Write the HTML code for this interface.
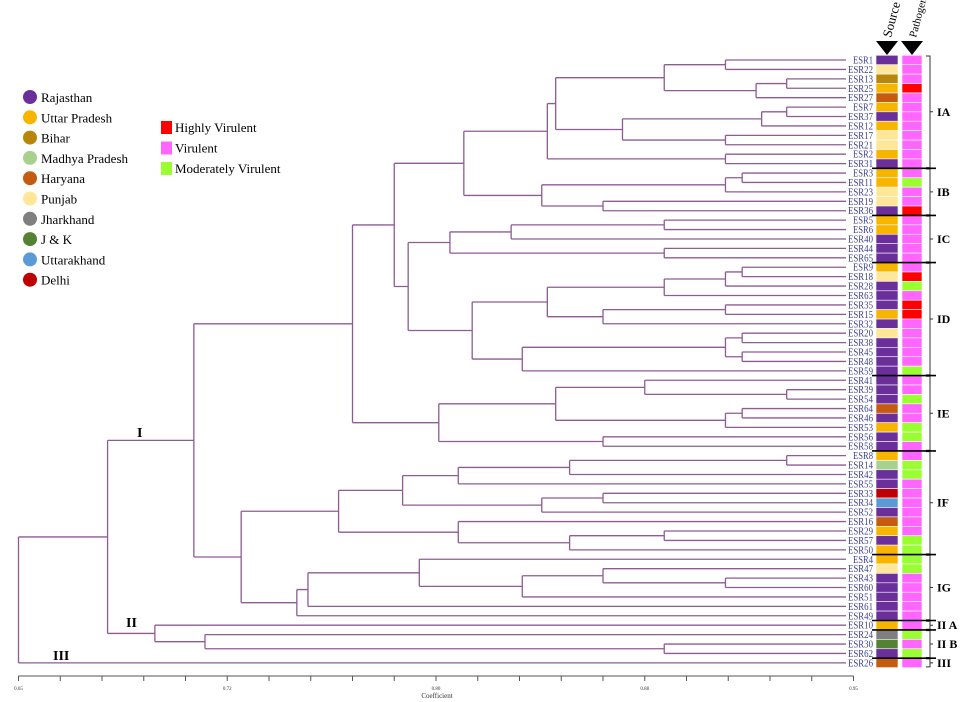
<!DOCTYPE html>
<html><head><meta charset="utf-8"><style>
html,body{margin:0;padding:0;background:#fff;}
svg{display:block;font-family:"Liberation Serif",serif;}
</style></head><body>
<svg id="chart" width="964" height="702" viewBox="0 0 964 702" xmlns="http://www.w3.org/2000/svg">
<g id="legend"></g>
<g id="tree"></g>
<g id="leaves"></g>
<g id="boxes"></g>
<g id="axis"></g>
</svg>
<script>
const leafNames = ["ESR1","ESR22","ESR13","ESR25","ESR27","ESR7","ESR37","ESR12","ESR17","ESR21","ESR2","ESR31",
"ESR3","ESR11","ESR23","ESR19","ESR36",
"ESR5","ESR6","ESR40","ESR44","ESR65",
"ESR9","ESR18","ESR28","ESR63","ESR35","ESR15","ESR32","ESR20","ESR38","ESR45","ESR48","ESR59",
"ESR41","ESR39","ESR54","ESR64","ESR46","ESR53","ESR56","ESR58",
"ESR8","ESR14","ESR42","ESR55","ESR33","ESR34","ESR52","ESR16","ESR29","ESR57","ESR50",
"ESR4","ESR47","ESR43","ESR60","ESR51","ESR61","ESR49",
"ESR10","ESR24","ESR30","ESR62","ESR26"];
const leafSource = ["R","P","B","U","H","U","R","U","P","P","U","R",
"U","U","P","P","R",
"U","U","R","R","R",
"U","P","R","R","R","U","R","P","R","R","R","R",
"R","R","R","H","R","U","R","R",
"U","M","R","R","D","T","R","H","U","R","U",
"U","P","R","R","R","R","R",
"U","J","K","R","H"];
const leafPathogen = ["V","V","V","H","V","V","V","V","V","V","V","V",
"V","M","V","V","H",
"V","V","V","V","V",
"V","H","M","V","H","H","V","V","V","V","V","M",
"V","V","M","V","V","M","M","V",
"V","M","M","V","V","V","V","V","V","M","M",
"M","M","V","V","V","V","V",
"V","M","V","M","V"];
const sourceNames = ["Rajasthan","Uttar Pradesh","Bihar","Madhya Pradesh","Haryana","Punjab","Jharkhand","J & K","Uttarakhand","Delhi"];
const sourceKeys = ["R","U","B","M","H","P","J","K","T","D"];
const pathogenNames = ["Highly Virulent","Virulent","Moderately Virulent"];
const pathogenKeys = ["H","V","M"];
const clusterNames = ["IA","IB","IC","ID","IE","IF","IG","II A","II B","III"];
const clusterStart = [0,12,17,22,34,42,53,60,61,64];
const clusterEnd = [11,16,21,33,41,52,59,60,63,64];
const tickValues = [0.65,0.665,0.68,0.695,0.71,0.725,0.74,0.755,0.77,0.785,0.80,0.815,0.83,0.845,0.86,0.875,0.89,0.905,0.92,0.935,0.95];
const tickLabels = {0:"0.65",5:"0.72",10:"0.80",15:"0.88",20:"0.95"};
// tree: [coefficient, left, right]; leaf = index
const A12 = [0.882,[0.904,0,1],[0.915,[0.926,2,3],4]];
const A3 = [0.867,[0.917,[0.926,5,6],7],[0.904,8,9]];
const IA = [0.840,[0.843,A12,A3],[0.904,10,11]];
const IB = [0.838,[0.904,[0.91,12,13],14],[0.860,15,16]];
const IC = [0.805,[0.827,[0.882,17,18],19],[0.882,20,21]];
const ID = [0.813,[0.840,[0.882,[0.904,[0.91,22,23],24],25],[0.860,[0.904,26,27],28]],[0.831,[0.904,[0.91,29,30],[0.91,31,32]],33]];
const IE = [0.801,[0.843,[0.875,34,[0.926,35,36]],[0.904,[0.91,37,38],39]],[0.860,40,41]];
const IF = [0.765,[0.788,[0.808,[0.848,[0.926,42,43],44],45],[0.838,[0.860,46,47],48]],[0.808,49,[0.848,[0.882,50,51],52]]];
const IG = [0.750,[0.754,[0.794,53,[0.831,[0.860,54,[0.904,55,56]],57]],58],59];
const clusterI = [0.713,[0.770,[0.785,[0.810,IA,IB],[0.790,IC,ID]],IE],[0.730,IF,IG]];
const clusterII = [0.699,60,[0.717,61,[0.882,62,63]]];
const treeRoot = [0.65,[0.682,clusterI,clusterII],64];

const NS="http://www.w3.org/2000/svg";
const srcColor={R:"#6b2f9b",U:"#f7b500",B:"#b8860b",M:"#a9d18e",H:"#c55a11",P:"#ffe699",J:"#7f7f7f",K:"#548235",T:"#5b9bd5",D:"#c00000"};
const patColor={H:"#ff0000",V:"#ff66ff",M:"#99ff33"};
const xS=c=>18.5+(c-0.65)/0.3*835;
const yL=i=>60+i*9.42;
const LEAF_END=846;
function mk(parent,tag,attrs,text){const e=document.createElementNS(NS,tag);for(const k in attrs)e.setAttribute(k,attrs[k]);if(text!==undefined)e.textContent=text;parent.appendChild(e);return e;}
const gT=document.getElementById('tree'),gL=document.getElementById('leaves'),gB=document.getElementById('boxes'),gA=document.getElementById('axis'),gG=document.getElementById('legend');
const lineStyle={stroke:"#8e5b93","stroke-width":"1.3",fill:"none"};
function draw(n,parentX){
  if(typeof n==="number"){
    const y=yL(n);
    const p=mk(gT,"path",Object.assign({d:`M${parentX},${y}H${LEAF_END}`},lineStyle));
    
    
    return y;
  }
  const x=xS(n[0]);
  const y1=draw(n[1],x),y2=draw(n[2],x);
  const ym=(y1+y2)/2;
  const p=mk(gT,"path",Object.assign({d:`M${x},${y1}V${y2}`+(parentX!==null?`M${parentX},${ym}H${x}`:"")},lineStyle));
  
  
  return ym;
}
draw(treeRoot,null);
leafNames.forEach((nm,i)=>{
  const y=yL(i);
  const t=mk(gL,"text",{x:873,y:y+3.5,"text-anchor":"end","font-size":"10","fill":"#3a3f8f",textLength:String(nm.length*5),lengthAdjust:"spacingAndGlyphs"},nm);
  
  
  const s=mk(gB,"rect",{x:876,y:y-4.7,width:22,height:9.42,fill:srcColor[leafSource[i]],stroke:"#fff","stroke-width":"0.6"});
  
  
  const p=mk(gB,"rect",{x:902,y:y-4.7,width:20,height:9.42,fill:patColor[leafPathogen[i]],stroke:"#fff","stroke-width":"0.6"});
  
  
});
clusterNames.forEach((nm,k)=>{
  const y1=yL(clusterStart[k])-4,y2=yL(clusterEnd[k])+4,ym=(y1+y2)/2;
  const b=mk(gB,"path",{d:`M926,${y1}H930V${y2}H926M930,${ym}H933`,stroke:"#333","stroke-width":"1",fill:"none"});
  
  
  const t=mk(gB,"text",{x:937,y:ym+4,"font-size":"12","font-weight":"bold",fill:"#000"},nm);
  
  
  if(k>0){
    const yy=yL(clusterStart[k])-4.7;
    const s=mk(gB,"line",{x1:872,x2:936,y1:yy,y2:yy,stroke:"#000","stroke-width":"1.6"});
    
    
  }
});
[[887,"Source",13],[912,"Pathogen",11]].forEach(([cx,lbl,fs])=>{
  const tri=mk(gB,"path",{d:`M${cx-11},41H${cx+11}L${cx},55Z`,fill:"#000"});
  
  
  const t=mk(gB,"text",{x:0,y:0,"font-size":fs,transform:`translate(${cx+4},38) rotate(-75)`},lbl);
  
  
});
const ax=mk(gA,"line",{x1:18.5,x2:853.5,y1:676,y2:676,stroke:"#555","stroke-width":"1"});


tickValues.forEach((v,i)=>{
  const x=xS(v);
  const t=mk(gA,"line",{x1:x,x2:x,y1:676,y2:681,stroke:"#555","stroke-width":"1"});
  
  
  if(tickLabels[i]){
    const l=mk(gA,"text",{x:x,y:690,"font-size":"5","text-anchor":"middle",fill:"#333"},tickLabels[i]);
    
    
  }
});
const at=mk(gA,"text",{x:437,y:698,"font-size":"7","text-anchor":"middle",fill:"#333"},"Coefficient");


[["I",137,437],["II",126,627],["III",53,660]].forEach(([t,x,y])=>{
  const e=mk(gA,"text",{x:x,y:y,"font-size":"14","font-weight":"bold"},t);
  
  
});
sourceNames.forEach((nm,i)=>{
  const y=97+i*20.3;
  const c=mk(gG,"circle",{cx:30,cy:y,r:7,fill:srcColor[sourceKeys[i]]});
  
  
  const t=mk(gG,"text",{x:41,y:y+5,"font-size":"13"},nm);
  
  
});
pathogenNames.forEach((nm,i)=>{
  const y=128+i*20.5;
  const r=mk(gG,"rect",{x:161,y:y-7,width:11,height:13,fill:patColor[pathogenKeys[i]]});
  
  
  const t=mk(gG,"text",{x:175,y:y+4,"font-size":"13"},nm);
  
  
});
</script>
</body></html>
